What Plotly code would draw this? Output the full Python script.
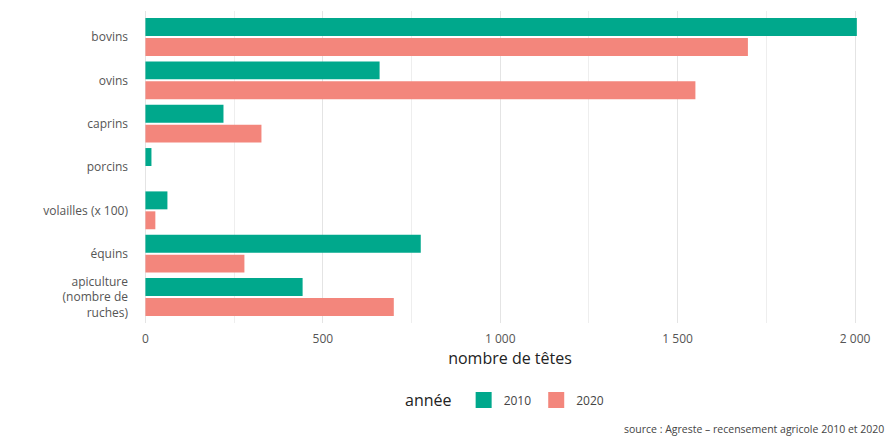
import plotly.graph_objects as go

categories = ["bovins", "ovins", "caprins", "porcins", "volailles (x 100)", "équins",
              "apiculture<br>(nombre de<br>ruches)"]
values_2010 = [2005, 660, 220, 17, 62, 776, 443]
values_2020 = [1698, 1550, 327, 0, 28, 279, 700]
years = ["2010", "2020"]
colors = ["#00A88C", "#F3867C"]

fig = go.Figure()
for name, vals, col in zip(years, [values_2010, values_2020], colors):
    fig.add_trace(go.Bar(
        y=categories, x=vals, name=name, orientation="h",
        marker=dict(color=col, line=dict(width=0)), showlegend=False,
    ))
    # legend entry with a larger square swatch
    fig.add_trace(go.Scatter(
        x=[None], y=[None], mode="markers", name=name,
        marker=dict(color=col, symbol="square", size=22),
    ))

W, H = 889, 437
L, R, T, B = 133, 2, 11, 114
pw = W - L - R
ph = H - T - B

def px_x(p):
    return (p - L) / pw

def px_y(p):
    return (H - B - p) / ph

FONT = "Open Sans, Lato, sans-serif"

fig.update_layout(
    width=W, height=H,
    margin=dict(l=L, r=R, t=T, b=B),
    paper_bgcolor="white", plot_bgcolor="white",
    barmode="group", bargap=0.08, bargroupgap=0.1,
    separators=", ",
    font=dict(family=FONT, color="#444"),
    xaxis=dict(
        range=[-35, 2090], dtick=500, tickformat=",",
        showgrid=True, gridcolor="#e4e4e4", gridwidth=1,
        minor=dict(dtick=250, showgrid=True, gridcolor="#eeeeee", gridwidth=1),
        zeroline=False, showline=False, ticks="", automargin=False,
        tickfont=dict(size=12, color="#555"), ticklabelstandoff=7,
        title=dict(text="nombre de têtes", font=dict(size=16, color="#222"), standoff=1),
    ),
    yaxis=dict(
        range=[6.6, -0.6], type="category", automargin=False,
        showgrid=False, zeroline=False, showline=False, ticks="",
        tickfont=dict(size=12, color="#555"), ticklabelstandoff=4,
    ),
    legend=dict(
        orientation="h", x=px_x(403), xanchor="left", y=px_y(401), yanchor="middle",
        title=dict(text="année ", font=dict(size=16, color="#222")),
        font=dict(size=12, color="#444"), itemsizing="trace",
    ),
    annotations=[dict(
        text="source : Agreste – recensement agricole 2010 et 2020",
        xref="paper", yref="paper", x=px_x(886), y=px_y(429),
        xanchor="right", yanchor="middle", showarrow=False,
        font=dict(size=10.5, color="#444"),
    )],
)

fig.write_html("out.html", config={"displayModeBar": False},
               post_script="document.body.style.margin='0';")
